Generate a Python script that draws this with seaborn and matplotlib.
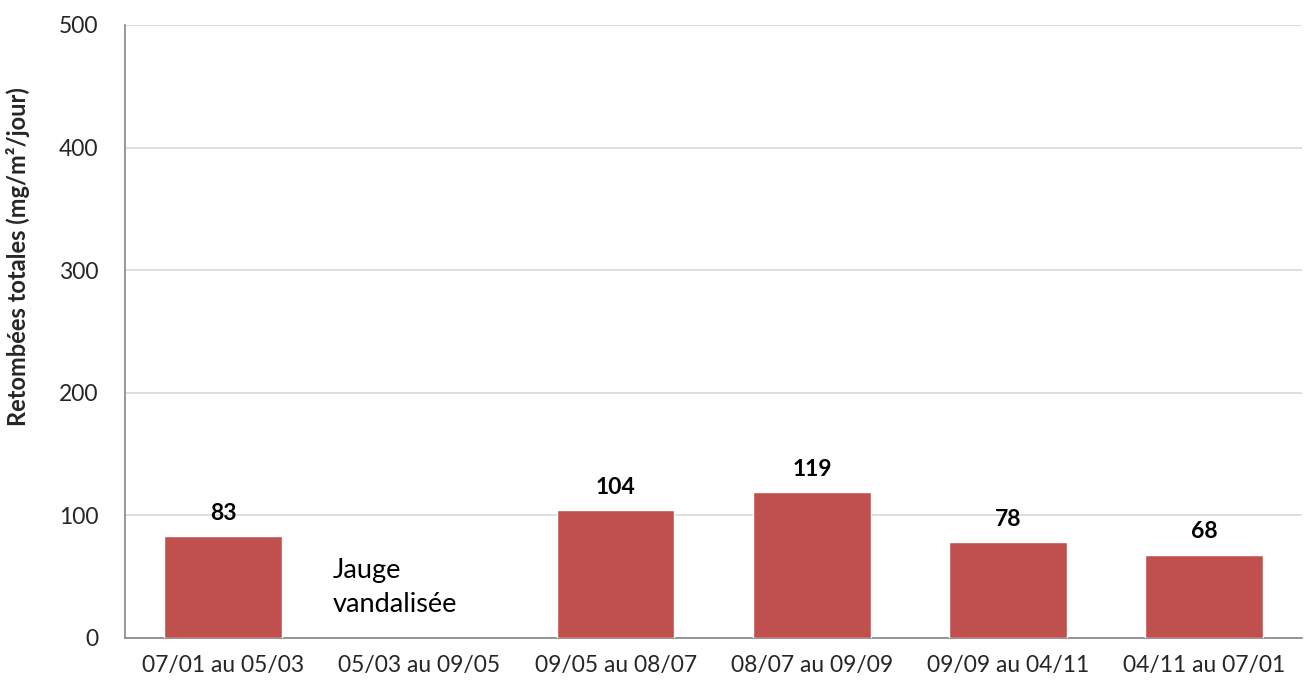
import numpy as np
import pandas as pd
import matplotlib
matplotlib.use("Agg")
import matplotlib.pyplot as plt
import seaborn as sns
from matplotlib.ticker import FixedLocator

# ------------------------------------------------
# DATA
# ------------------------------------------------

periods = [
    "07/01 au 05/03",
    "05/03 au 09/05",
    "09/05 au 08/07",
    "08/07 au 09/09",
    "09/09 au 04/11",
    "04/11 au 07/01",
]
retombees = [83, np.nan, 104, 119, 78, 68]
y_ticks = [0, 100, 200, 300, 400, 500]
note_text = "Jauge\nvandalisée"

# ------------------------------------------------
# PLOT
# ------------------------------------------------

sns.set_style("white")
plt.rcParams["font.family"] = ["Lato", "DejaVu Sans"]

df = pd.DataFrame({"periode": periods, "valeur": retombees})

fig = plt.figure(figsize=(13.09, 6.86), dpi=100)
ax = fig.add_axes([0.0955, 0.070, 0.8995, 0.8936])

sns.barplot(data=df, x="periode", y="valeur", order=periods,
            color="#C0504D", saturation=1, width=0.6, ax=ax, zorder=3)

for i, v in enumerate(retombees):
    if not np.isnan(v):
        ax.text(i, v + 10, f"{v:.0f}", ha="center", va="bottom",
                fontsize=16.5, fontweight="bold", color="black")

ax.text(0.56, 41, note_text, ha="left", va="center", fontsize=19.5,
        color="black", linespacing=1.45)

ax.set_xlim(-0.5, len(periods) - 0.5)
ax.set_ylim(0, 500)
ax.set_yticks(y_ticks)
ax.yaxis.grid(True, color="#D9D9D9", linewidth=1.2, zorder=0)
ax.set_axisbelow(True)

ax.xaxis.set_minor_locator(FixedLocator(np.arange(-0.5, len(periods), 1.0)))
ax.tick_params(axis="x", which="major", length=0, pad=12, labelsize=16.5)
ax.tick_params(axis="x", which="minor", length=7, color="#868686", width=1.2)
ax.tick_params(axis="y", length=7, color="#868686", width=1.2, labelsize=16.5, pad=12)

for side in ["top", "right"]:
    ax.spines[side].set_visible(False)
for side in ["left", "bottom"]:
    ax.spines[side].set_color("#868686")
    ax.spines[side].set_linewidth(1.2)

ax.set_xlabel("")
ax.set_ylabel("Retombées totales (mg/m²/jour)", fontsize=17, fontweight="bold")
ax.yaxis.set_label_coords(-0.0806, 0.623)

fig.savefig("out.png", dpi=100)
